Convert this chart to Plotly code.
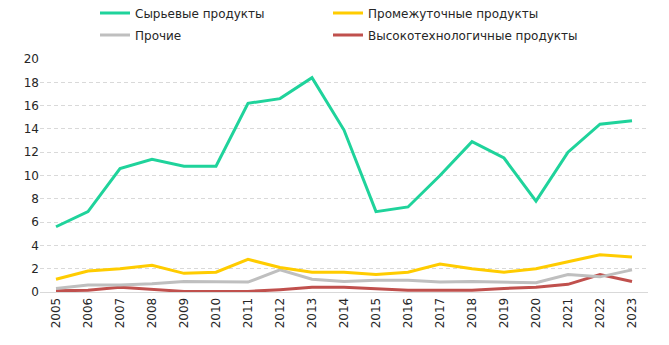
import plotly.graph_objects as go

years = [str(y) for y in range(2005, 2024)]
raw = [5.6, 6.9, 10.6, 11.4, 10.8, 10.8, 16.2, 16.6, 18.4, 13.9, 6.9, 7.3, 10.0, 12.9, 11.5, 7.8, 12.0, 14.4, 14.7]
inter = [1.1, 1.8, 2.0, 2.3, 1.6, 1.7, 2.8, 2.1, 1.7, 1.7, 1.5, 1.7, 2.4, 2.0, 1.7, 2.0, 2.6, 3.2, 3.0]
other = [0.3, 0.6, 0.6, 0.7, 0.9, 0.85, 0.85, 1.9, 1.1, 0.9, 1.0, 1.0, 0.85, 0.9, 0.85, 0.8, 1.5, 1.3, 1.9]
hitech = [0.1, 0.15, 0.4, 0.25, 0.05, 0.05, 0.05, 0.2, 0.4, 0.4, 0.25, 0.15, 0.15, 0.15, 0.3, 0.4, 0.66, 1.5, 0.9]

names = ["Сырьевые продукты", "Промежуточные продукты", "Прочие", "Высокотехнологичные продукты"]
colors = ["#1FD39B", "#FFCC00", "#BFBFBF", "#C0504D"]
legends = ["legend", "legend2", "legend3", "legend4"]
series = [raw, inter, other, hitech]

W, H = 669, 345

fig = go.Figure()
order = [3, 2, 1, 0]
for i in order:
    fig.add_trace(go.Scatter(x=years, y=series[i], mode="lines", name=names[i],
                             line=dict(color=colors[i], width=3),
                             legend=legends[i]))

font = dict(family="DejaVu Sans", size=12, color="#262626")
leg = dict(orientation="h", xref="container", yref="container",
           xanchor="left", yanchor="middle",
           font=font, bgcolor="rgba(0,0,0,0)", itemwidth=30)
col1, col2 = 95 / W, 328 / W
row1, row2 = 1 - 13 / H, 1 - 35 / H
fig.update_layout(
    width=W, height=H,
    margin=dict(l=40, r=21, t=59, b=53, autoexpand=False),
    plot_bgcolor="white", paper_bgcolor="white",
    font=font,
    showlegend=True,
    legend=dict(leg, x=col1, y=row1),
    legend2=dict(leg, x=col2, y=row1),
    legend3=dict(leg, x=col1, y=row2),
    legend4=dict(leg, x=col2, y=row2),
    xaxis=dict(type="category", range=[-0.5, 18.5], tickangle=-90, showgrid=False,
               showline=True, linecolor="#D9D9D9", linewidth=1, ticks="",
               tickfont=font, fixedrange=True),
    yaxis=dict(range=[0, 20], dtick=2, tick0=0, showgrid=True, gridcolor="#D9D9D9",
               griddash="4px,3px", gridwidth=1, zeroline=False, showline=False,
               ticks="", tickfont=font, fixedrange=True),
)
fig.write_html("out.html")
